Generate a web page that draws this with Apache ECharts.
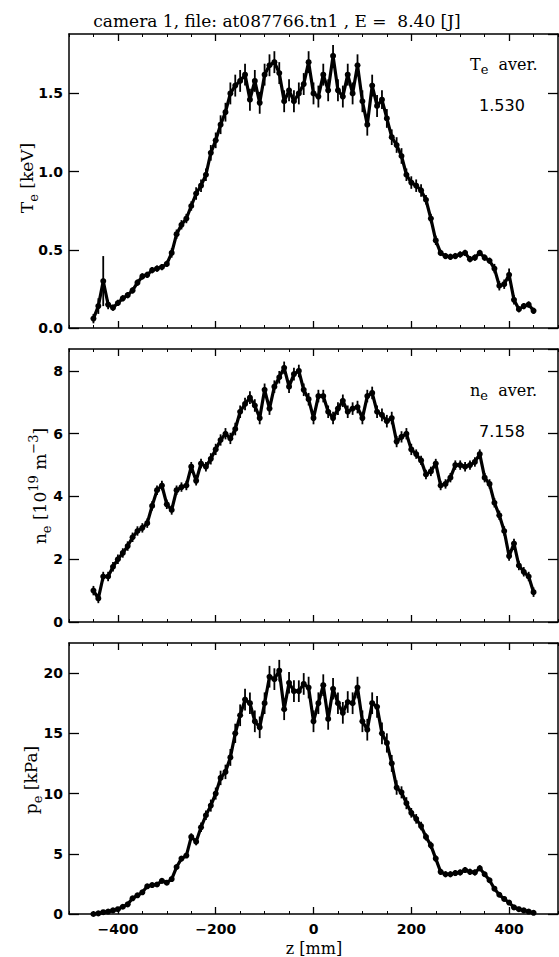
<!DOCTYPE html>
<html lang="en">
<head>
    <meta charset="UTF-8">
    <title>profiles</title>
    <script src="https://cdn.jsdelivr.net/npm/echarts@6.0.0/dist/echarts.min.js"></script>
    <style>
        html, body { margin: 0; padding: 0; background: #fff; }
        #main { width: 559px; height: 957px; }
    </style>
</head>
<body>
<div id="main"></div>
<script>
// z positions along the chord [mm]
var zVals = [-450,-440,-430,-420,-410,-400,-390,-380,-370,-360,
    -350,-340,-330,-320,-310,-300,-290,-280,-270,-260,
    -250,-240,-230,-220,-210,-200,-190,-180,-170,-160,
    -150,-140,-130,-120,-110,-100,-90,-80,-70,-60,
    -50,-40,-30,-20,-10,0,10,20,30,40,
    50,60,70,80,90,100,110,120,130,140,
    150,160,170,180,190,200,210,220,230,240,
    250,260,270,280,290,300,310,320,330,340,
    350,360,370,380,390,400,410,420,430,440,450];

// electron temperature [keV] and error
var teVals = [0.06,0.14,0.30,0.15,0.13,0.16,0.19,0.21,0.24,0.29,
    0.33,0.34,0.37,0.38,0.39,0.41,0.48,0.60,0.66,0.70,
    0.78,0.86,0.91,0.98,1.12,1.20,1.30,1.38,1.50,1.55,
    1.58,1.62,1.46,1.58,1.44,1.62,1.68,1.70,1.63,1.45,
    1.52,1.45,1.50,1.56,1.70,1.50,1.48,1.62,1.52,1.74,
    1.52,1.48,1.62,1.50,1.68,1.45,1.30,1.55,1.42,1.46,
    1.34,1.22,1.17,1.10,0.98,0.93,0.91,0.88,0.82,0.70,
    0.56,0.48,0.46,0.455,0.46,0.47,0.48,0.44,0.45,0.48,
    0.45,0.43,0.38,0.27,0.28,0.34,0.18,0.12,0.14,0.15,0.11];
var teErr = [0.03,0.05,0.16,0.03,0.02,0.02,0.02,0.02,0.02,0.02,
    0.02,0.02,0.02,0.02,0.02,0.02,0.03,0.03,0.03,0.03,
    0.03,0.04,0.04,0.04,0.05,0.05,0.06,0.06,0.07,0.07,
    0.07,0.07,0.07,0.07,0.07,0.07,0.07,0.07,0.07,0.07,
    0.07,0.07,0.07,0.07,0.07,0.07,0.07,0.07,0.07,0.07,
    0.07,0.07,0.07,0.07,0.07,0.07,0.07,0.07,0.07,0.06,
    0.06,0.05,0.05,0.05,0.04,0.04,0.04,0.04,0.03,0.03,
    0.03,0.02,0.02,0.02,0.02,0.02,0.02,0.02,0.02,0.02,
    0.02,0.02,0.03,0.03,0.03,0.04,0.03,0.02,0.02,0.02,0.02];

// electron density [1e19 m^-3] and error
var neVals = [1.0,0.75,1.45,1.45,1.76,2.0,2.2,2.42,2.7,2.9,
    3.0,3.15,3.7,4.2,4.35,3.75,3.57,4.2,4.3,4.35,
    4.95,4.5,5.05,4.95,5.2,5.5,5.8,6.0,5.85,6.15,
    6.7,6.95,7.15,6.9,6.5,7.4,6.8,7.5,7.8,8.1,
    7.5,7.9,8.0,7.4,7.1,6.5,7.2,7.2,6.7,6.5,
    6.8,7.05,6.7,6.8,6.85,6.5,7.2,7.3,6.7,6.6,
    6.4,6.5,5.75,5.9,6.0,5.5,5.35,5.15,4.7,4.8,
    5.05,4.35,4.4,4.6,5.0,5.0,4.95,5.0,5.1,5.35,
    4.6,4.4,3.8,3.4,2.9,2.1,2.5,1.8,1.6,1.45,0.95];
var neErr = [0.15,0.15,0.15,0.15,0.15,0.15,0.15,0.15,0.15,0.15,
    0.15,0.15,0.15,0.15,0.15,0.15,0.15,0.15,0.15,0.15,
    0.15,0.15,0.15,0.15,0.18,0.18,0.18,0.18,0.18,0.2,
    0.2,0.2,0.2,0.2,0.2,0.2,0.2,0.2,0.2,0.2,
    0.2,0.2,0.2,0.2,0.2,0.2,0.2,0.2,0.2,0.2,
    0.2,0.2,0.2,0.2,0.2,0.2,0.2,0.2,0.2,0.2,
    0.2,0.2,0.18,0.18,0.18,0.18,0.15,0.15,0.15,0.15,
    0.15,0.15,0.15,0.15,0.15,0.15,0.15,0.15,0.15,0.15,
    0.15,0.15,0.15,0.15,0.15,0.15,0.15,0.15,0.15,0.15,0.15];

// electron pressure [kPa] and error
var peVals = [0.0,0.05,0.15,0.2,0.3,0.4,0.6,0.8,1.3,1.55,
    1.8,2.3,2.4,2.45,2.75,2.6,2.9,3.9,4.6,4.85,
    6.4,6.0,7.2,8.2,9.0,10.0,11.3,11.8,13.0,15.0,
    16.5,17.8,17.5,16.0,15.5,17.5,19.7,19.5,20.2,17.0,
    19.2,18.5,18.5,19.1,18.8,16.0,17.5,19.0,16.2,18.7,
    17.5,16.7,17.6,17.5,18.8,16.0,15.3,17.5,17.2,15.0,
    14.2,12.5,10.5,10.1,9.2,8.4,7.9,7.3,6.4,5.7,
    4.6,3.5,3.3,3.3,3.4,3.45,3.65,3.5,3.45,3.8,
    3.3,2.8,2.1,1.6,1.25,0.95,0.55,0.4,0.3,0.2,0.1];
var peErr = [0.15,0.15,0.15,0.15,0.15,0.15,0.15,0.15,0.15,0.15,
    0.2,0.2,0.2,0.2,0.2,0.2,0.2,0.2,0.2,0.2,
    0.3,0.3,0.4,0.4,0.5,0.5,0.6,0.6,0.7,0.8,
    0.9,0.9,0.9,0.9,0.9,0.9,0.9,0.9,0.9,0.9,
    0.9,0.9,0.9,0.9,0.9,0.9,0.9,0.9,0.9,0.9,
    0.9,0.9,0.9,0.9,0.9,0.9,0.9,0.9,0.9,0.9,
    0.8,0.7,0.6,0.5,0.5,0.4,0.4,0.35,0.3,0.3,
    0.25,0.25,0.25,0.25,0.25,0.25,0.25,0.25,0.25,0.25,
    0.2,0.2,0.2,0.2,0.2,0.2,0.2,0.2,0.2,0.2,0.2];

var zMajor = [-400, -200, 0, 200, 400];
var yMax = [1.88, 8.7, 22.5];
var yStep = [0.5, 2, 5];
var yDigits = [1, 0, 0];
var teAver = '1.530';
var neAver = '7.158';

var panels = [
    {top: 34, height: 294, vals: teVals, err: teErr},
    {top: 349, height: 273, vals: neVals, err: neErr},
    {top: 643, height: 271, vals: peVals, err: peErr}
];

var black = '#000';
var tickFont = {color: black, fontFamily: 'DejaVu Sans', fontSize: 14, fontWeight: 'bold'};
var serif = '"DejaVu Serif"';

function minusFmt(v) {
    return v < 0 ? '\u2212' + Math.abs(v) : String(v);
}

function errRender(params, api) {
    var a = api.coord([api.value(0), api.value(1)]);
    var b = api.coord([api.value(0), api.value(2)]);
    return {
        type: 'line',
        shape: {x1: a[0], y1: a[1], x2: b[0], y2: b[1]},
        style: {stroke: black, lineWidth: 1.8}
    };
}

var grid = [], xAxis = [], yAxis = [], series = [];
panels.forEach(function (p, i) {
    grid.push({left: 69, width: 489, top: p.top, height: p.height});
});
// overlay grids only for the 50 mm minor ticks
panels.forEach(function (p, i) {
    grid.push({left: 69, width: 489, top: p.top, height: p.height});
});

panels.forEach(function (p, i) {
    ['bottom', 'top'].forEach(function (pos) {
        xAxis.push({
            gridIndex: i, type: 'value', position: pos,
            min: -500, max: 500, interval: 50,
            axisLine: {show: true, onZero: false, lineStyle: {color: black, width: 1.5}},
            axisTick: {show: true, inside: true, length: 7, customValues: zMajor, lineStyle: {color: black, width: 1.3}},
            axisLabel: Object.assign({show: i === 2 && pos === 'bottom', customValues: zMajor, margin: 8, formatter: minusFmt}, tickFont),
            splitLine: {show: false}
        });
        xAxis.push({
            gridIndex: i + 3, type: 'value', position: pos,
            min: -500, max: 500, interval: 50,
            axisLine: {show: false, onZero: false},
            axisTick: {show: true, inside: true, length: 3, lineStyle: {color: black, width: 1}},
            axisLabel: {show: false},
            splitLine: {show: false}
        });
    });
    ['left', 'right'].forEach(function (pos) {
        yAxis.push({
            gridIndex: i, type: 'value', position: pos,
            min: 0, max: yMax[i], interval: yStep[i],
            axisLine: {show: true, onZero: false, lineStyle: {color: black, width: 1.5}},
            axisTick: {show: true, inside: true, length: 10, lineStyle: {color: black, width: 1.3}},
            axisLabel: Object.assign({show: pos === 'left', showMaxLabel: false, margin: 6, formatter: function (v) {
                return v.toFixed(yDigits[i]);
            }}, tickFont),
            splitLine: {show: false}
        });
    });
});
panels.forEach(function (p, i) {
    yAxis.push({gridIndex: i + 3, type: 'value', min: 0, max: yMax[i], show: false});
});

panels.forEach(function (p, i) {
    // main axes of panel i: x index 4*i, y index 2*i
    series.push({
        type: 'custom',
        xAxisIndex: 4 * i, yAxisIndex: 2 * i,
        renderItem: errRender,
        data: zVals.map(function (z, k) { return [z, p.vals[k] - p.err[k], p.vals[k] + p.err[k]]; }),
        silent: true, clip: true
    });
    series.push({
        type: 'line',
        xAxisIndex: 4 * i, yAxisIndex: 2 * i,
        data: zVals.map(function (z, k) { return [z, p.vals[k]]; }),
        symbol: 'circle', symbolSize: 6, showSymbol: true,
        itemStyle: {color: black},
        lineStyle: {color: black, width: 3.2},
        silent: true, clip: true
    });
});

var richBase = {
    m: {fontFamily: serif, fontSize: 17, lineHeight: 26, fill: black},
    s: {fontFamily: serif, fontSize: 13, lineHeight: 12, verticalAlign: 'bottom', fill: black},
    u: {fontFamily: serif, fontSize: 13, lineHeight: 12, verticalAlign: 'top', fill: black}
};
var richAnn = {
    m: {fontFamily: serif, fontSize: 16, lineHeight: 24, fill: black},
    s: {fontFamily: serif, fontSize: 13, lineHeight: 10, verticalAlign: 'bottom', fill: black}
};

function vLabel(x, y, text) {
    return {
        type: 'text', x: x, y: y, rotation: Math.PI / 2,
        style: {text: text, rich: richBase, fill: black, align: 'center', verticalAlign: 'middle'}
    };
}

var graphic = [
    {type: 'text', x: 277, y: 21, style: {
        text: 'camera 1, file: at087766.tn1 , E =  8.40 [J]',
        font: '17px ' + serif, fill: black, align: 'center', verticalAlign: 'middle'}},
    vLabel(27, 178, '{m|T}{s|e}{m| [keV]}'),
    vLabel(40, 486, '{m|n}{s|e}{m| [10}{u|19}{m| m}{u|\u22123}{m|]}'),
    vLabel(31, 780, '{m|p}{s|e}{m| [kPa]}'),
    {type: 'text', x: 314, y: 948, style: {
        text: 'z [mm]', font: '16px ' + serif, fill: black, align: 'center', verticalAlign: 'middle'}},
    {type: 'text', x: 470, y: 64, style: {
        text: '{m|T}{s|e}{m|  aver.}', rich: richAnn, fill: black, align: 'left', verticalAlign: 'middle'}},
    {type: 'text', x: 502, y: 105, style: {
        text: teAver, font: '16px "DejaVu Sans"', fill: black, align: 'center', verticalAlign: 'middle'}},
    {type: 'text', x: 470, y: 390, style: {
        text: '{m|n}{s|e}{m|  aver.}', rich: richAnn, fill: black, align: 'left', verticalAlign: 'middle'}},
    {type: 'text', x: 502, y: 431, style: {
        text: neAver, font: '16px "DejaVu Sans"', fill: black, align: 'center', verticalAlign: 'middle'}}
];

var myChart = echarts.init(document.getElementById('main'), null, {renderer: 'svg'});
myChart.setOption({
    animation: false,
    backgroundColor: '#fff',
    grid: grid,
    xAxis: xAxis,
    yAxis: yAxis,
    series: series,
    graphic: graphic
});
</script>
</body>
</html>
